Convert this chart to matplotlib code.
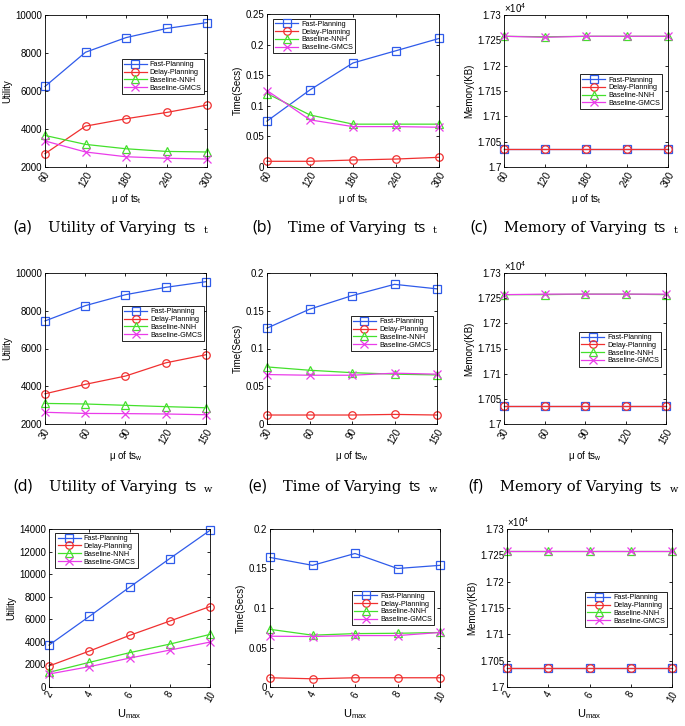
"""
3x3 grid: utility / time / memory of the four planners vs ts_t, ts_w and U_max
"""

import matplotlib
matplotlib.use("Agg")
import matplotlib.pyplot as plt
from matplotlib.ticker import FuncFormatter, MultipleLocator
from matplotlib.offsetbox import TextArea, HPacker, AnnotationBbox

plt.rcParams["font.family"] = ["Liberation Sans", "DejaVu Sans"]
plt.rcParams["mathtext.default"] = "regular"

METHODS = ["Fast-Planning", "Delay-Planning", "Baseline-NNH", "Baseline-GMCS"]

# x values
TS_T = [60, 120, 180, 240, 300]
TS_W = [30, 60, 90, 120, 150]
U_MAX = [2, 4, 6, 8, 10]

# (a) utility vs ts_t
UTIL_TST_FAST = [6240, 8040, 8810, 9290, 9600]
UTIL_TST_DELAY = [2700, 4150, 4540, 4870, 5260]
UTIL_TST_NNH = [3660, 3190, 2960, 2820, 2790]
UTIL_TST_GMCS = [3370, 2790, 2540, 2460, 2420]

# (b) time vs ts_t
TIME_TST_FAST = [0.075, 0.126, 0.170, 0.190, 0.210]
TIME_TST_DELAY = [0.0093, 0.0093, 0.0114, 0.0130, 0.0158]
TIME_TST_NNH = [0.120, 0.085, 0.070, 0.070, 0.070]
TIME_TST_GMCS = [0.125, 0.077, 0.066, 0.066, 0.065]

# (c) memory vs ts_t
MEM_TST_FAST = [17036, 17036, 17036, 17036, 17036]
MEM_TST_DELAY = [17036, 17036, 17036, 17036, 17036]
MEM_TST_NNH = [17258, 17257, 17258, 17258, 17258]
MEM_TST_GMCS = [17258, 17256, 17258, 17258, 17258]

# (d) utility vs ts_w
UTIL_TSW_FAST = [7460, 8270, 8850, 9240, 9540]
UTIL_TSW_DELAY = [3600, 4100, 4540, 5240, 5670]
UTIL_TSW_NNH = [3090, 3060, 2990, 2920, 2860]
UTIL_TSW_GMCS = [2620, 2560, 2550, 2530, 2490]

# (e) time vs ts_w
TIME_TSW_FAST = [0.127, 0.152, 0.170, 0.185, 0.179]
TIME_TSW_DELAY = [0.0119, 0.0119, 0.0119, 0.0127, 0.0119]
TIME_TSW_NNH = [0.0756, 0.0712, 0.0680, 0.0660, 0.0650]
TIME_TSW_GMCS = [0.0655, 0.0646, 0.0646, 0.0673, 0.0660]

# (f) memory vs ts_w
MEM_TSW_FAST = [17036, 17036, 17036, 17036, 17036]
MEM_TSW_DELAY = [17036, 17036, 17036, 17036, 17036]
MEM_TSW_NNH = [17257, 17257, 17258, 17258, 17257]
MEM_TSW_GMCS = [17257, 17258, 17258, 17258, 17258]

# (g) utility vs U_max
UTIL_U_FAST = [3710, 6250, 8840, 11380, 13880]
UTIL_U_DELAY = [1860, 3180, 4570, 5840, 7130]
UTIL_U_NNH = [1300, 2180, 3040, 3800, 4660]
UTIL_U_GMCS = [1150, 1800, 2560, 3270, 3980]

# (h) time vs U_max
TIME_U_FAST = [0.164, 0.154, 0.169, 0.150, 0.154]
TIME_U_DELAY = [0.0117, 0.0104, 0.0117, 0.0117, 0.0117]
TIME_U_NNH = [0.073, 0.0656, 0.0676, 0.068, 0.069]
TIME_U_GMCS = [0.0643, 0.0639, 0.0651, 0.0651, 0.069]

# (i) memory vs U_max
MEM_U_FAST = [17036, 17036, 17036, 17036, 17036]
MEM_U_DELAY = [17036, 17036, 17036, 17036, 17036]
MEM_U_NNH = [17259, 17259, 17259, 17259, 17259]
MEM_U_GMCS = [17259, 17259, 17259, 17259, 17259]

COLORS = ["#2f5bea", "#f03030", "#44e02c", "#ea3cea"]
MARKERS = ["s", "o", "^", "x"]

W, H = 685, 726
fig = plt.figure(figsize=(W / 100, H / 100), dpi=100)


def add_axes(left, top, width, height):
    return fig.add_axes([left / W, 1 - (top + height) / H, width / W, height / H])


def draw(ax, x, series, ylim, ystep, ylabel, xlabel, leg_loc, leg_anchor, mem=False):
    for vals, name, c, m in zip(series, METHODS, COLORS, MARKERS):
        ax.plot(x, vals, color=c, marker=m, markersize=5.4, markerfacecolor="none",
                markeredgewidth=0.9, linewidth=0.9, label=name, clip_on=False)
    ax.set_xlim(x[0], x[-1])
    ax.set_xticks(x)
    ax.set_ylim(*ylim)
    ax.yaxis.set_major_locator(MultipleLocator(ystep))
    if mem:
        ax.yaxis.set_major_formatter(FuncFormatter(lambda v, p: "%g" % round(v / 1e4, 4)))
        ax.text(0.0, 1.0, r"$\times10^4$", transform=ax.transAxes, fontsize=7,
                ha="left", va="bottom")
    else:
        ax.yaxis.set_major_formatter(FuncFormatter(lambda v, p: "%g" % round(v, 4)))
    ax.tick_params(direction="in", top=True, right=True, labelsize=7, length=2.5,
                   width=0.6, pad=2)
    for lab in ax.get_xticklabels():
        lab.set_rotation(60)
        lab.set_ha("center")
        lab.set_va("top")
    for s in ax.spines.values():
        s.set_linewidth(0.6)
    ax.set_ylabel(ylabel, fontsize=7, labelpad=2)
    ax.set_xlabel(xlabel, fontsize=8 if "max" in xlabel else 7, labelpad=2)
    leg = ax.legend(loc=leg_loc, bbox_to_anchor=leg_anchor, fontsize=5.2, frameon=True,
                    fancybox=False, edgecolor="black", framealpha=1, handlelength=3.2,
                    handletextpad=0.4, borderpad=0.3, labelspacing=0.1, borderaxespad=0)
    leg.get_frame().set_linewidth(0.6)


def caption(x, y, tag, words, sub):
    tag_box = TextArea("(%s)" % tag, textprops=dict(family="Open Sans", size=11.5))
    inner = HPacker(children=[
        TextArea(words, textprops=dict(family="DejaVu Serif", size=10.6)),
        TextArea("ts", textprops=dict(family="Open Sans", size=10.5)),
        TextArea(r"$_\mathregular{%s}$" % sub, textprops=dict(family="DejaVu Serif", size=10)),
    ], align="baseline", pad=0, sep=5)
    box = HPacker(children=[tag_box, inner], align="baseline", pad=0, sep=12)
    ab = AnnotationBbox(box, (x, y), xycoords="figure pixels", frameon=False,
                        box_alignment=(0, 0.5))
    fig.add_artist(ab)


xl_t = r"μ of ts$_\mathregular{t}$"
xl_w = r"μ of ts$_\mathregular{w}$"
xl_u = r"U$_\mathregular{max}$"

# row 1
ax = add_axes(45, 15, 162, 152)
draw(ax, TS_T, [UTIL_TST_FAST, UTIL_TST_DELAY, UTIL_TST_NNH, UTIL_TST_GMCS],
     (2000, 10000), 2000, "Utility", xl_t, "upper right", (0.98, 0.71))
ax = add_axes(267, 14, 172, 153)
draw(ax, TS_T, [TIME_TST_FAST, TIME_TST_DELAY, TIME_TST_NNH, TIME_TST_GMCS],
     (0, 0.25), 0.05, "Time(Secs)", xl_t, "upper left", (0.035, 0.97))
ax = add_axes(504, 15, 164, 152)
draw(ax, TS_T, [MEM_TST_FAST, MEM_TST_DELAY, MEM_TST_NNH, MEM_TST_GMCS],
     (17000, 17300), 50, "Memory(KB)", xl_t, "upper right", (0.965, 0.61), mem=True)

# row 2
ax = add_axes(45, 273, 161, 151)
draw(ax, TS_W, [UTIL_TSW_FAST, UTIL_TSW_DELAY, UTIL_TSW_NNH, UTIL_TSW_GMCS],
     (2000, 10000), 2000, "Utility", xl_w, "upper right", (0.99, 0.78))
ax = add_axes(267, 273, 170, 151)
draw(ax, TS_W, [TIME_TSW_FAST, TIME_TSW_DELAY, TIME_TSW_NNH, TIME_TSW_GMCS],
     (0, 0.2), 0.05, "Time(Secs)", xl_w, "upper right", (0.976, 0.715))
ax = add_axes(504, 273, 162, 151)
draw(ax, TS_W, [MEM_TSW_FAST, MEM_TSW_DELAY, MEM_TSW_NNH, MEM_TSW_GMCS],
     (17000, 17300), 50, "Memory(KB)", xl_w, "upper right", (0.97, 0.61), mem=True)

# row 3
ax = add_axes(49, 529, 161, 158)
draw(ax, U_MAX, [UTIL_U_FAST, UTIL_U_DELAY, UTIL_U_NNH, UTIL_U_GMCS],
     (0, 14000), 2000, "Utility", xl_u, "upper left", (0.04, 0.975))
ax = add_axes(270, 529, 170, 158)
draw(ax, U_MAX, [TIME_U_FAST, TIME_U_DELAY, TIME_U_NNH, TIME_U_GMCS],
     (0, 0.2), 0.05, "Time(Secs)", xl_u, "upper right", (0.965, 0.61))
ax = add_axes(507, 529, 165, 158)
draw(ax, U_MAX, [MEM_U_FAST, MEM_U_DELAY, MEM_U_NNH, MEM_U_GMCS],
     (17000, 17300), 50, "Memory(KB)", xl_u, "upper right", (0.97, 0.60), mem=True)

# sub-captions
caption(13, H - 228, "a", "Utility of Varying", "t")
caption(252, H - 228, "b", "Time of Varying", "t")
caption(470, H - 228, "c", "Memory of Varying", "t")
caption(13, H - 487, "d", "Utility of Varying", "w")
caption(248, H - 487, "e", "Time of Varying", "w")
caption(468, H - 487, "f", "Memory of Varying", "w")

fig.savefig("out.png", dpi=100)
plt.close(fig)
